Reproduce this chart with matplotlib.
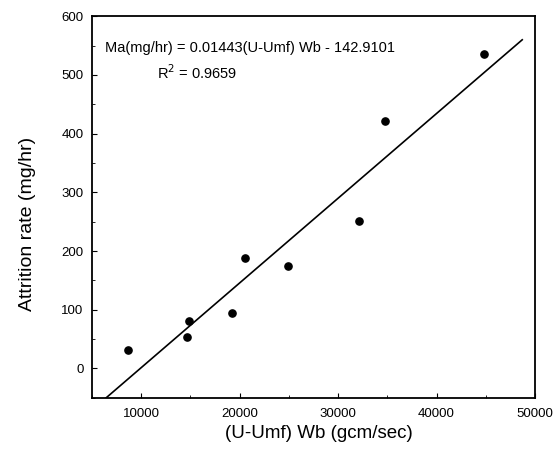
import numpy as np
import matplotlib
matplotlib.use("Agg")
import matplotlib.pyplot as plt

plt.rcParams['font.family'] = ['Liberation Sans', 'DejaVu Sans']

# Measured attrition data
flux_wb = [8700, 14600, 14900, 19200, 20500, 24900, 32100, 34800, 44800]
attrition = [32, 54, 80, 95, 188, 175, 252, 421, 535]

# Linear regression reported for the data
slope = 0.01443
intercept = -142.9101
r_squared = 0.9659
fit_range = [5000, 48700]

x_ticks = [10000, 20000, 30000, 40000, 50000]
y_ticks = [0, 100, 200, 300, 400, 500, 600]

fig = plt.figure(figsize=(5.59, 4.5), dpi=100)
ax = fig.add_axes([0.1646, 0.116, 0.7925, 0.848])

xf = np.array(fit_range, dtype=float)
ax.plot(xf, slope * xf + intercept, color='black', lw=1.2, zorder=2)
ax.plot(flux_wb, attrition, 'o', color='black', ms=5.2, zorder=3)

ax.set_xlim(5000, 50000)
ax.set_ylim(-48, 600)
ax.set_xticks(x_ticks)
ax.set_yticks(y_ticks)
ax.set_xticks(np.arange(5000, 50001, 5000), minor=True)
ax.set_yticks(np.arange(-50, 601, 50), minor=True)
ax.tick_params(which='both', direction='in', labelsize=9.5, colors='black')
ax.tick_params(which='major', length=3.5, width=0.8)
ax.tick_params(which='minor', length=2, width=0.6)
ax.tick_params(axis='x', pad=7)
ax.tick_params(axis='y', pad=6)
for s in ax.spines.values():
    s.set_linewidth(1.3)

ax.set_xlabel('(U-Umf) Wb (gcm/sec)', fontsize=13.5)
ax.set_ylabel('Attrition rate (mg/hr)', fontsize=14)
ax.xaxis.set_label_coords(0.512, -0.072)
ax.yaxis.set_label_coords(-0.126, 0.455)

ax.text(0.03, 0.916, 'Ma(mg/hr) = 0.01443(U-Umf) Wb - 142.9101',
        transform=ax.transAxes, fontsize=10.5, ha='left', va='center')
ax.text(0.237, 0.853, 'R$^2$ = %.4f' % r_squared,
        transform=ax.transAxes, fontsize=10.5, ha='center', va='center')

fig.savefig('out.png', dpi=100)
